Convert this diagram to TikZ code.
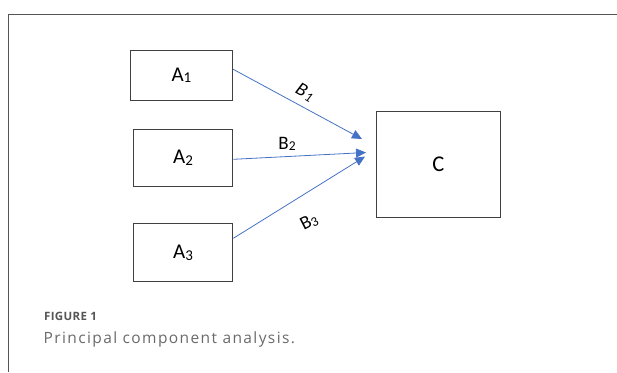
\documentclass[tikz,border=0pt]{standalone}
\usepackage{fontspec}
\setmainfont{Carlito}
\newfontfamily\capfont[LetterSpace=9]{Open Sans}
\newfontfamily\figfont[LetterSpace=3]{Open Sans}
\usetikzlibrary{arrows.meta}
\definecolor{arrowblue}{HTML}{4472C4}
\definecolor{boxgray}{HTML}{404040}
\definecolor{framegray}{HTML}{555555}
\definecolor{capgray}{HTML}{6A6A6A}
\newcommand{\subnum}[1]{{\fontsize{15}{15}\selectfont\raisebox{-1.7pt}{#1}}}
\newcommand{\bsub}[1]{{\fontsize{13.5}{14}\selectfont\raisebox{-1.5pt}{#1}}}
\tikzset{
  box/.style={draw=boxgray, line width=1.1pt, inner sep=0pt, font=\fontsize{21}{23}\selectfont},
  conn/.style={draw=arrowblue, line width=0.8pt, -{Triangle[length=10pt,width=9pt]}},
  blabel/.style={font=\fontsize{19}{20}\selectfont, inner sep=0pt},
}
\begin{document}
\begin{tikzpicture}[x=1pt,y=-1pt]
\useasboundingbox (0,0) rectangle (617,372);
\draw[framegray, line width=1pt] (8,372) -- (8,14) -- (617,14);
\node[box, minimum width=102.5pt, minimum height=49.5pt] (a1) at (181.4,75.3) {A\subnum{1}};
\node[box, minimum width=99.5pt, minimum height=57.5pt] (a2) at (183,158) {A\subnum{2}};
\node[box, minimum width=99.5pt, minimum height=58.5pt] (a3) at (183,252.5) {A\subnum{3}};
\node[box, minimum width=124.5pt, minimum height=105.5pt, font=\fontsize{22.5}{24}\selectfont] (c) at (438.3,164.5) {C};
\coordinate (t1) at (362,139);
\coordinate (t2) at (366,152.5);
\coordinate (t3) at (365,156.5);
\draw[conn] ([yshift=6pt]a1.east) -- (t1);
\draw[conn] ([yshift=-1.3pt]a2.east) -- (t2);
\draw[conn] ([yshift=14.2pt]a3.east) -- (t3);
\node[blabel, rotate=-30] (b1) at (305,92) {\textit{B\kern1pt\bsub{1}}};
\node[blabel] (b2) at (287,144) {B\bsub{2}};
\node[blabel, rotate=27] (b3) at (309,222) {B\bsub{3}};
\node[anchor=base west, inner sep=0pt, text=framegray, font=\figfont\bfseries\fontsize{11.5}{13}\selectfont] (fig) at (44,320.5) {FIGURE 1};
\node[anchor=base west, inner sep=0pt, text=capgray, font=\capfont\fontsize{15.5}{17}\selectfont] (cap) at (43.5,343.5) {Principal component analysis.};
\end{tikzpicture}
\end{document}
